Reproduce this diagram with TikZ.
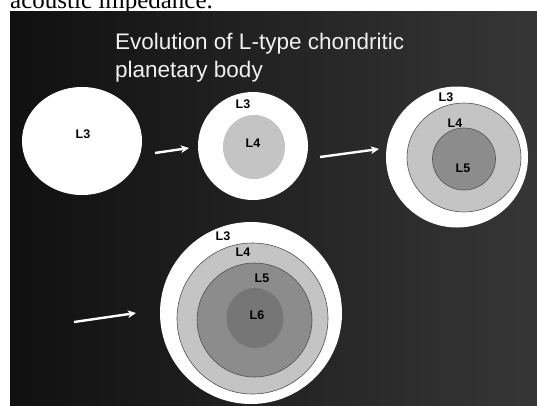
\documentclass[tikz,border=0pt]{standalone}
\usepackage{fontspec}
\setmainfont{Liberation Sans}
\newfontfamily\capserif{Liberation Serif}
\usetikzlibrary{arrows.meta,shapes.geometric}
\definecolor{bgdark}{HTML}{101010}
\definecolor{bgright}{HTML}{363636}
\definecolor{titlecol}{HTML}{F0F0F0}
\definecolor{ringfour}{HTML}{C4C4C4}
\definecolor{ringfive}{HTML}{8C8C8C}
\definecolor{ringsix}{HTML}{767676}
\definecolor{edgegray}{HTML}{505050}
\begin{document}
\begin{tikzpicture}[x=1pt,y=-1pt,
  body/.style={ellipse, inner sep=0pt, fill=white, draw=none},
  layer/.style={ellipse, inner sep=0pt, draw=edgegray, line width=0.6pt},
  lab/.style={font=\bfseries\fontsize{12.5}{12.5}\selectfont, text=black, inner sep=0pt},
  ttl/.style={anchor=base west, inner sep=0pt, text=titlecol, font=\fontsize{22.5}{22.5}\selectfont},
  flow/.style={draw=white, line width=2.4pt, -{Stealth[length=8pt,width=7.5pt,inset=2pt]}}]

\useasboundingbox (0,0) rectangle (537,405);
\fill[white] (0,0) rectangle (537,405);
\begin{scope}
  \clip (0,0) rectangle (537,11);
  \node[anchor=base west, inner sep=0pt, font=\capserif\fontsize{25}{25}\selectfont] (cap) at (10,8.5) {acoustic impedance.};
\end{scope}
\shade[left color=bgdark, right color=bgright] (10,11) rectangle (537,405);

% title
\node[ttl] (t1) at (115,49) {Evolution of L-type chondritic};
\node[ttl] (t2) at (115,77) {planetary body};

% body 1
\node[body, minimum width=120pt, minimum height=108pt] (c1) at (82,141) {};
\node[lab] (c1l3) at (83,134) {L3};

% body 2
\node[body, minimum width=110pt, minimum height=108pt] (c2) at (253,146) {};
\node[layer, fill=ringfour, draw=none, minimum width=62pt, minimum height=64pt] (c2l4c) at (254,147) {};
\node[lab] (c2l3) at (243,104) {L3};
\node[lab] (c2l4) at (253,143) {L4};

% body 3
\node[body, minimum width=142pt, minimum height=141pt] (c3) at (457,157) {};
\node[layer, fill=ringfour, minimum width=114pt, minimum height=109pt] (c3l4c) at (464,157.5) {};
\node[layer, fill=ringfive, minimum width=63pt, minimum height=62pt] (c3l5c) at (464,159) {};
\node[lab] (c3l3) at (446,97) {L3};
\node[lab] (c3l4) at (455,123) {L4};
\node[lab] (c3l5) at (463,168) {L5};

% body 4
\node[body, minimum width=182pt, minimum height=182pt] (c4) at (251,313) {};
\node[layer, fill=ringfour, minimum width=151pt, minimum height=151pt] (c4l4c) at (252.5,318.5) {};
\node[layer, fill=ringfive, minimum width=115pt, minimum height=114pt] (c4l5c) at (254.5,320) {};
\node[layer, fill=ringsix, draw=none, minimum width=57pt, minimum height=60pt] (c4l6c) at (255,318) {};
\node[lab] (c4l3) at (223,236) {L3};
\node[lab] (c4l4) at (243,252) {L4};
\node[lab] (c4l5) at (262,278) {L5};
\node[lab] (c4l6) at (257,315) {L6};

% arrows
\coordinate (a1s) at (155,153);
\coordinate (a1e) at (189,148);
\coordinate (a2s) at (320,157);
\coordinate (a2e) at (379,149);
\coordinate (a4s) at (74,322);
\coordinate (a4e) at (136,313);
\draw[flow] (a1s) -- (a1e);
\draw[flow] (a2s) -- (a2e);
\draw[flow] (a4s) -- (a4e);
\end{tikzpicture}
\end{document}
